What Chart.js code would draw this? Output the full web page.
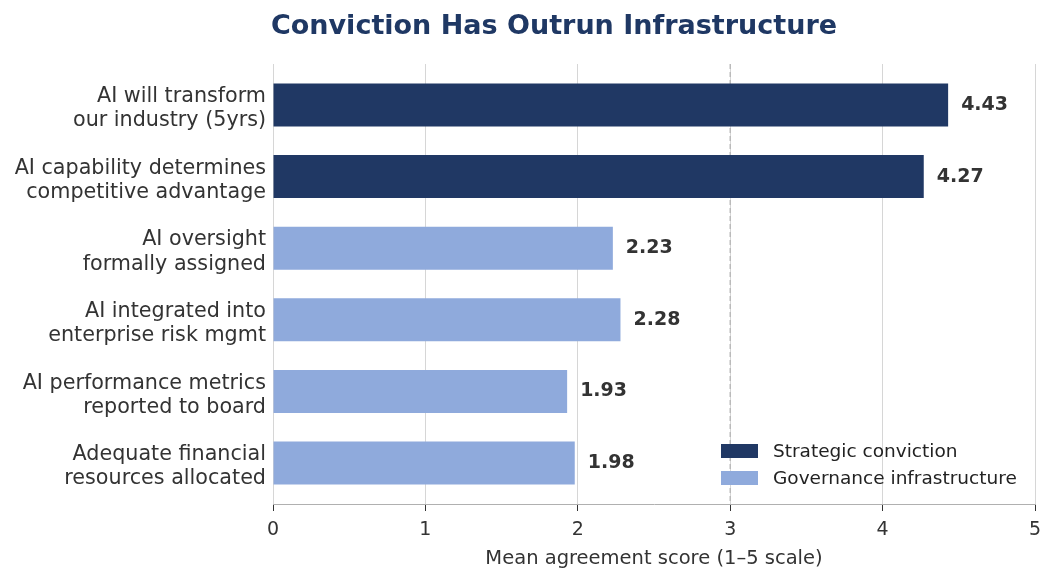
<!DOCTYPE html>
<html>
<head>
<meta charset="utf-8">
<script src="https://cdn.jsdelivr.net/npm/chart.js@4.4.1/dist/chart.umd.min.js"></script>
<style>
  body { margin: 0; background: #fff; }
  #wrap { width: 1056px; height: 580px; position: relative; }
</style>
</head>
<body>
<div id="wrap"><canvas id="convictionChart"></canvas></div>
<script>
// chart data
const categories = [
    ["AI will transform", "our industry (5yrs)"],
    ["AI capability determines", "competitive advantage"],
    ["AI oversight", "formally assigned"],
    ["AI integrated into", "enterprise risk mgmt"],
    ["AI performance metrics", "reported to board"],
    ["Adequate financial", "resources allocated"],
];
const scores = [4.43, 4.27, 2.23, 2.28, 1.93, 1.98];
const groups = ["Strategic conviction", "Strategic conviction", "Governance infrastructure",
    "Governance infrastructure", "Governance infrastructure", "Governance infrastructure"];
const seriesNames = ["Strategic conviction", "Governance infrastructure"];
const seriesColors = ["#203864", "#8faadc"];
const xTicks = [0, 1, 2, 3, 4, 5];
const referenceLine = 3;

const FONT = "'DejaVu Sans', sans-serif";

// one dataset per group, nulls where the bar belongs to the other group
const datasets = seriesNames.map((name, i) => ({
    label: name,
    data: scores.map((v, j) => groups[j] === name ? v : null),
    backgroundColor: seriesColors[i],
    borderWidth: 0,
    grouped: false,
    barPercentage: 0.6,
    categoryPercentage: 1,
}));

// dashed reference line at 3, behind the bars
const refLinePlugin = {
    id: "refLine",
    beforeDatasetsDraw(chart) {
        const { ctx, chartArea, scales } = chart;
        const x = scales.x.getPixelForValue(referenceLine);
        ctx.save();
        ctx.strokeStyle = "#b5b5b5";
        ctx.lineWidth = 1.3;
        ctx.setLineDash([5, 3]);
        ctx.beginPath();
        ctx.moveTo(x, chartArea.top);
        ctx.lineTo(x, chartArea.bottom);
        ctx.stroke();
        ctx.restore();
    },
};

// bold value labels at the end of each bar
const valueLabelPlugin = {
    id: "valueLabels",
    afterDatasetsDraw(chart) {
        const { ctx } = chart;
        ctx.save();
        ctx.font = "bold 19px " + FONT;
        ctx.fillStyle = "#333333";
        ctx.textBaseline = "middle";
        ctx.textAlign = "left";
        chart.data.datasets.forEach((ds, i) => {
            chart.getDatasetMeta(i).data.forEach((bar, j) => {
                if (ds.data[j] == null) return;
                ctx.fillText(ds.data[j].toFixed(2), bar.x + 13, bar.y);
            });
        });
        ctx.restore();
    },
};

// title and legend drawn by hand so they sit where the original has them
const titleLegendPlugin = {
    id: "titleLegend",
    afterDraw(chart) {
        const { ctx, chartArea } = chart;
        ctx.save();
        ctx.font = "bold 27px " + FONT;
        ctx.fillStyle = "#1f3864";
        ctx.textAlign = "center";
        ctx.textBaseline = "middle";
        ctx.fillText("Conviction Has Outrun Infrastructure", 554, 27);

        ctx.font = "18.5px " + FONT;
        ctx.textAlign = "left";
        chart.data.datasets.forEach((ds, i) => {
            const y = chartArea.bottom - 53 + i * 27;
            ctx.fillStyle = ds.backgroundColor;
            ctx.fillRect(721, y - 7, 37, 14);
            ctx.fillStyle = "#222";
            ctx.fillText(ds.label, 773, y + 1);
        });
        ctx.restore();
    },
};

new Chart(document.getElementById("convictionChart"), {
    type: "bar",
    data: { labels: categories, datasets: datasets },
    plugins: [refLinePlugin, valueLabelPlugin, titleLegendPlugin],
    options: {
        indexAxis: "y",
        responsive: true,
        maintainAspectRatio: false,
        animation: false,
        layout: { padding: { top: 64, right: 21, left: 0, bottom: 0 } },
        plugins: {
            legend: { display: false },
            title: { display: false },
            tooltip: { enabled: false },
        },
        scales: {
            x: {
                min: 0,
                max: 5,
                afterBuildTicks(scale) {
                    scale.ticks = xTicks.map(v => ({ value: v }));
                },
                ticks: {
                    color: "#333",
                    font: { family: FONT, size: 19 },
                    padding: 8,
                },
                grid: {
                    color: "#d6d6d6",
                    lineWidth: 1,
                    tickLength: 7,
                    tickColor: "#333",
                },
                border: { display: true, color: "#b0b0b0" },
                title: {
                    display: true,
                    text: "Mean agreement score (1–5 scale)",
                    color: "#333",
                    font: { family: FONT, size: 19.5 },
                    padding: { top: 2, bottom: 9 },
                },
                afterFit(scale) { scale.height = 76; },
            },
            y: {
                // a little more room above the first and below the last bar
                afterBuildTicks(scale) {
                    scale._startValue = -0.5725;
                    scale._valueRange = categories.length + 0.145;
                },
                ticks: {
                    color: "#333",
                    font: { family: FONT, size: 20.7, lineHeight: 1.17 },
                    padding: 7,
                    labelOffset: 4,
                },
                grid: { display: false, drawTicks: false },
                border: { display: false },
                afterFit(scale) { scale.width = 273; },
            },
        },
    },
});
</script>
</body>
</html>
